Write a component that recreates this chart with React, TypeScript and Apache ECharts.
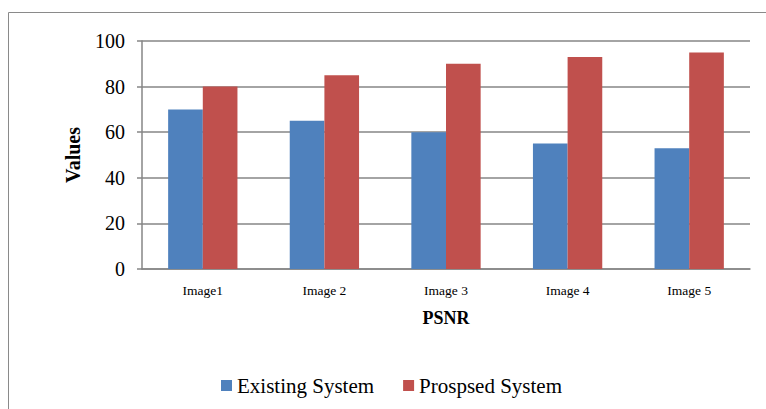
import React, { useEffect, useRef } from "react";
import * as echarts from "echarts";

const categories = ["Image1", "Image 2", "Image 3", "Image 4", "Image 5"];
const existingSystem = [70, 65, 60, 55, 53];
const proposedSystem = [80, 85, 90, 93, 95];
const seriesNames = ["Existing System", "Prospsed System"];

export default function App() {
  const ref = useRef<HTMLDivElement>(null);
  useEffect(() => {
    const chart = echarts.init(ref.current!, null, { renderer: "svg" });
    const font = "Times New Roman, Liberation Serif, serif";
    chart.setOption({
      animation: false,
      textStyle: { fontFamily: font },
      graphic: [
        {
          type: "rect",
          shape: { x: 8.5, y: 12.5, width: 900, height: 600 },
          style: { fill: "none", stroke: "#8a8a8a", lineWidth: 1 },
          silent: true,
        },
      ],
      grid: { left: 142, right: 16, top: 41, bottom: 140 },
      legend: {
        left: 216,
        top: 370,
        itemWidth: 11,
        itemHeight: 11,
        itemGap: 29,
        itemStyle: { borderWidth: 0 },
        icon: "rect",
        textStyle: { fontFamily: font, fontSize: 21, color: "#000" },
        data: seriesNames,
      },
      xAxis: {
        type: "category",
        data: categories,
        name: "PSNR",
        nameLocation: "middle",
        nameGap: 40,
        nameTextStyle: { fontFamily: font, fontSize: 18, fontWeight: "bold", color: "#000", verticalAlign: "top" },
        axisLine: { lineStyle: { color: "#868686", width: 1.5 } },
        axisTick: { show: false },
        axisLabel: { fontFamily: font, fontSize: 13.5, color: "#000", margin: 14 },
      },
      yAxis: {
        type: "value",
        min: 0,
        max: 100,
        interval: 20,
        name: "Values",
        nameLocation: "middle",
        nameRotate: 90,
        nameGap: 59,
        nameTextStyle: { fontFamily: font, fontSize: 20, fontWeight: "bold", color: "#000" },
        axisLine: { show: true, lineStyle: { color: "#868686", width: 1.5 } },
        axisTick: { show: true, length: 5, lineStyle: { color: "#868686", width: 1.5 } },
        axisLabel: { fontFamily: font, fontSize: 20, color: "#000", margin: 17 },
        splitLine: { lineStyle: { color: "#868686", width: 1.5 } },
      },
      series: [
        {
          name: seriesNames[0],
          type: "bar",
          data: existingSystem,
          itemStyle: { color: "#4F81BD" },
          barGap: "0%",
          barCategoryGap: "43%",
        },
        {
          name: seriesNames[1],
          type: "bar",
          data: proposedSystem,
          itemStyle: { color: "#C0504D" },
          barGap: "0%",
          barCategoryGap: "43%",
        },
      ],
    });
    return () => chart.dispose();
  }, []);
  return (
    <div
      ref={ref}
      style={{ position: "absolute", left: 0, top: 0, width: 766, height: 409, background: "#fff" }}
    />
  );
}
